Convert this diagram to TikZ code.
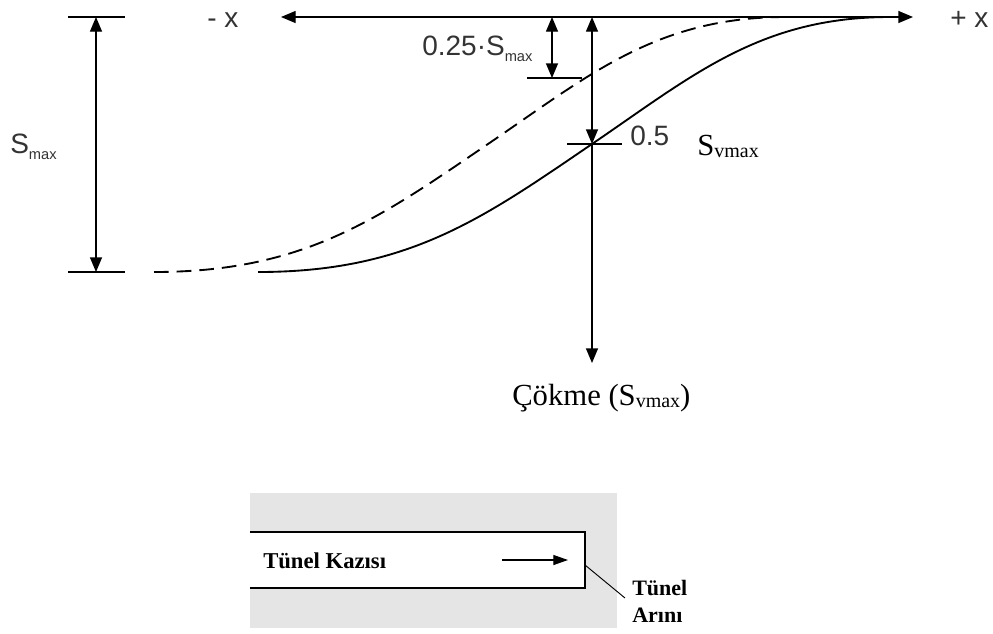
\documentclass[tikz,border=0pt]{standalone}
\usepackage{fontspec}
\setmainfont{Liberation Serif}
\newfontfamily\arialf{Liberation Sans}
\usetikzlibrary{arrows.meta}
\begin{document}
\begin{tikzpicture}[x=0.75pt,y=-0.75pt,
  axline/.style={line width=1pt},
  tipend/.style={-{Triangle[length=11pt,width=9pt]}},
  tipboth/.style={{Triangle[length=11pt,width=9pt]}-{Triangle[length=11pt,width=9pt]}},
  curvesolid/.style={line width=1.4pt},
  curvedash/.style={line width=1.4pt, dash pattern=on 11pt off 6pt},
  ticks/.style={line width=0.9pt},
  sanslbl/.style={inner sep=0pt, anchor=base west, text=black!80, font=\arialf\fontsize{21}{25}\selectfont},
  seriflbl/.style={inner sep=0pt, anchor=base west, font=\fontsize{23}{27}\selectfont},
  boldlbl/.style={inner sep=0pt, anchor=base west, font=\bfseries\fontsize{17}{20}\selectfont},
]
\useasboundingbox (0,0) rectangle (993,633);

% curves
\draw[curvedash] (154,272) .. controls (304,272) and (378,219) .. (488,144)
   .. controls (588,76) and (656,17) .. (786,17);
\draw[curvesolid] (258,272) .. controls (408,272) and (482,219) .. (592,144)
   .. controls (692,76) and (760,17) .. (890,17);

% coordinates
\coordinate (xl) at (281,17);
\coordinate (xr) at (913,17);
\coordinate (vtop) at (592,17);
\coordinate (vmid) at (592,144);
\coordinate (vbot) at (592,363);
\coordinate (qtop) at (552,17);
\coordinate (qbot) at (552,78);
\coordinate (stop) at (96,17);
\coordinate (sbot) at (96,272);

% axes
\draw[axline,tipboth] (xl) -- (xr);
\draw[axline,tipboth] (vtop) -- (vmid);
\draw[axline,tipend] (vmid) -- (vbot);
\draw[axline,tipboth] (qtop) -- (qbot);
\draw[axline,tipboth] (stop) -- (sbot);

% ticks
\draw[ticks] (68,17) -- (125,17);
\draw[ticks] (68,272) -- (125,272);
\draw[ticks] (527,78) -- (582,78);
\draw[ticks] (567,144) -- (622,144);

% labels
\node[sanslbl] (mx) at (207,27) {- x};
\node[sanslbl] (px) at (950,27) {+ x};
\node[sanslbl] (smax) at (10,153) {S\raisebox{-4.5pt}{\fontsize{11}{11}\selectfont max}};
\node[sanslbl] (qlbl) at (422,55) {0.25·S\raisebox{-4.5pt}{\fontsize{11}{11}\selectfont max}};
\node[sanslbl] (half) at (630,145) {0.5};
\node[seriflbl] (svm) at (697,155) {S\raisebox{-2pt}{\fontsize{15}{15}\selectfont vmax}};
\node[seriflbl] (cok) at (512,405) {Çökme (S\raisebox{-2pt}{\fontsize{15}{15}\selectfont vmax})};

% tunnel box
\fill[black!10] (250,493) rectangle (617,628);
\fill[white] (250,532) rectangle (585,588);
\draw[line width=0.9pt] (250,532) -- (585,532) -- (585,588) -- (250,588);
\coordinate (face) at (585,565);
\coordinate (facelbl) at (625,598);
\node[boldlbl] (kazi) at (263,568) {Tünel Kazısı};
\coordinate (a1) at (502,560);
\coordinate (a2) at (568,560);
\draw[line width=0.9pt,-{Triangle[length=11pt,width=7.5pt]}] (a1) -- (a2);
\draw[line width=0.7pt] (face) -- (facelbl);
\node[boldlbl, font=\bfseries\fontsize{16.5}{20}\selectfont] (t1) at (632,595) {Tünel};
\node[boldlbl, font=\bfseries\fontsize{16.5}{20}\selectfont] (t2) at (632,622) {Arını};
\end{tikzpicture}
\end{document}
